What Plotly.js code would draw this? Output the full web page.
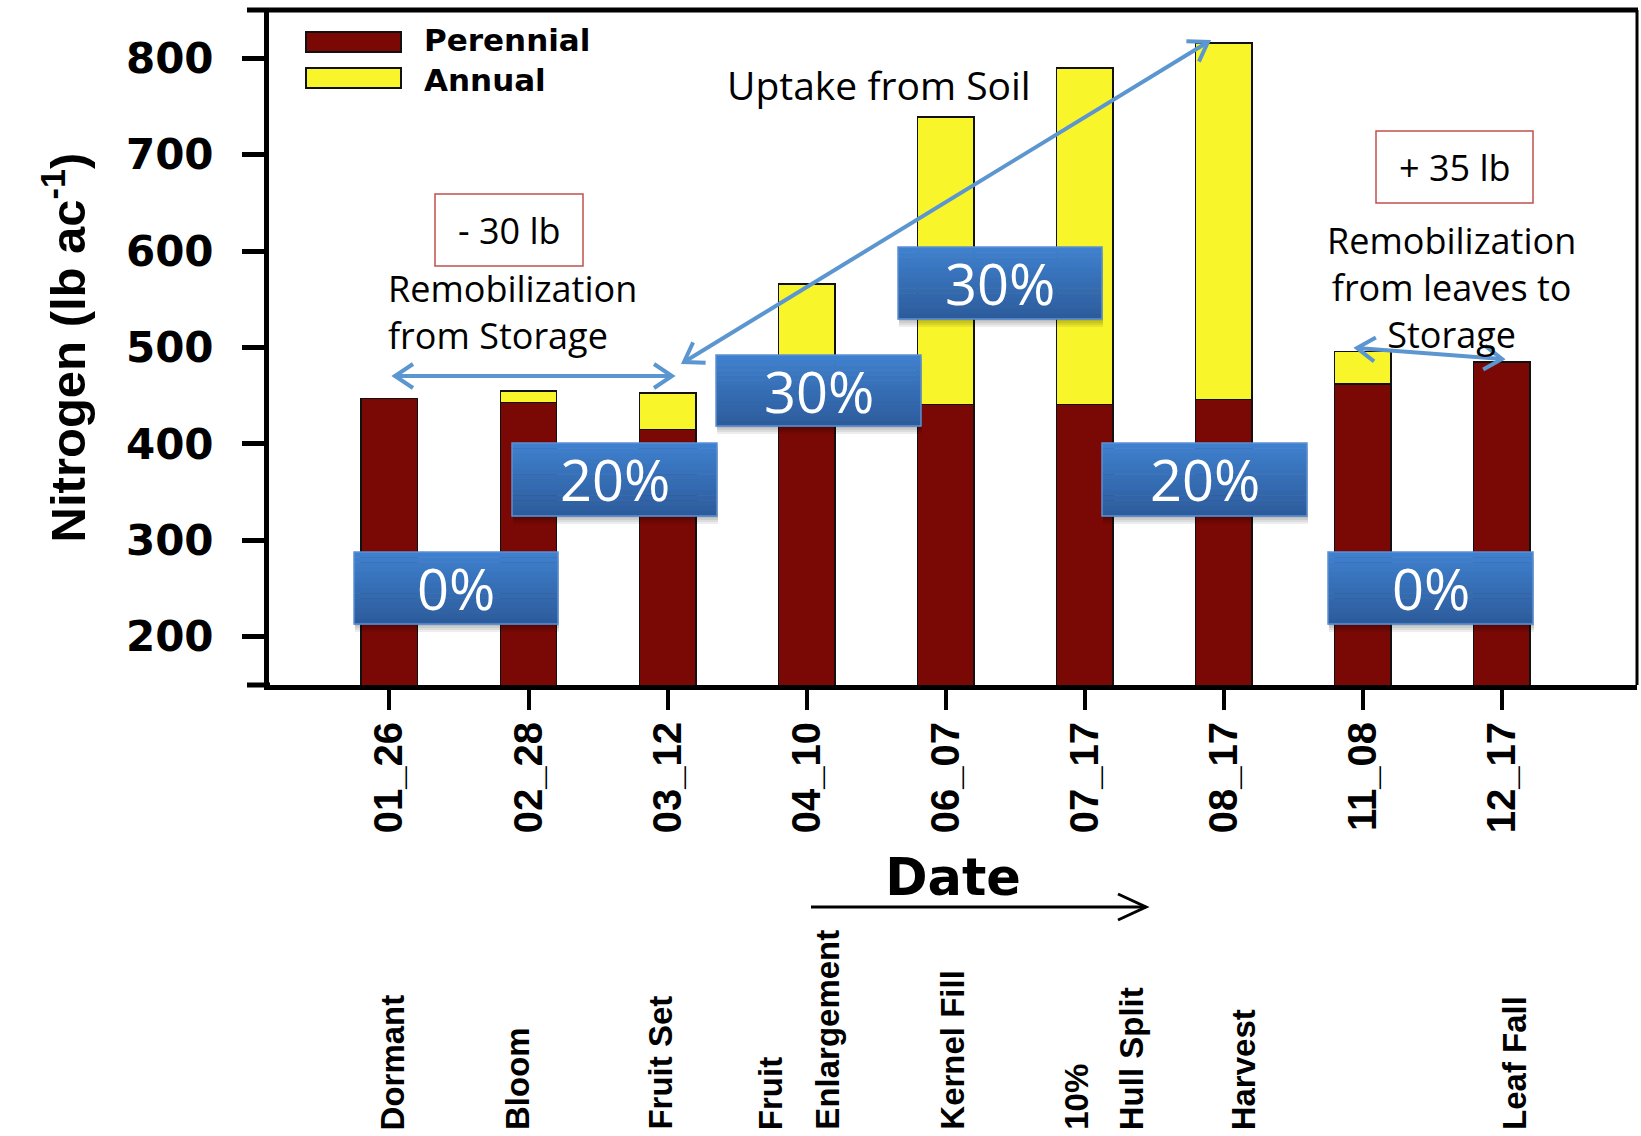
<!DOCTYPE html>
<html><head><meta charset="utf-8">
<script src="https://cdn.plot.ly/plotly-3.0.1.min.js"></script>
<style>html,body{margin:0;padding:0;background:#fff}</style>
</head><body><div id="chart" style="width:1641px;height:1136px"></div>
<script>
// ---------------- data ----------------
const dates = ['01_26','02_28','03_12','04_10','06_07','07_17','08_17','11_08','12_17'];
const perennial = [447, 443, 415, 430, 441, 441, 446, 462, 485];
const annual    = [0,   12,  38,  136, 298, 349, 370, 34,  0];
const seriesNames = ['Perennial', 'Annual'];
const stages = [['Dormant'],['Bloom'],['Fruit Set'],['Fruit','Enlargement'],['Kernel Fill'],['10%','Hull Split'],['Harvest'],[],['Leaf Fall']];
const yTickVals = [200, 300, 400, 500, 600, 700, 800];
const yTitle = 'Nitrogen (lb ac<sup>-1</sup>)';
const xTitle = 'Date';
const shareLabels = ['0%','20%','30%','30%','20%','0%'];
const changeLabels = ['- 30 lb', '+ 35 lb'];
const noteLeft = 'Remobilization<br>from Storage';
const noteRight = 'Remobilization<br>from leaves to<br>Storage';
const noteTop = 'Uptake from Soil';

// ---------------- geometry / styles ----------------
const W = 1641, H = 1136, L = 269, R = 4, T = 10, B = 451;
const PW = W - L - R, PH = H - T - B;
const px = x => (x - L) / PW;
const py = y => (T + PH - y) / PH;
const RED = '#7a0905', YEL = '#f9f52b', ARROW = '#5b96d0';
const boldArial = {family: 'Liberation Sans, Arial, sans-serif', weight: 'bold', color: '#000'};
const boldDeja = {family: 'DejaVu Sans, sans-serif', weight: 'bold', color: '#000'};
const calib = {family: 'Open Sans, Noto Sans, sans-serif', color: '#000'};

const shareBoxPos = [[354,552,558,624],[512,443,717,516],[716,355,921,426],[898,247,1102,319],[1102,443,1307,516],[1328,552,1533,624]];
const changeBoxPos = [[435,194,583,266],[1376,131,1533,203]];
const stageShift = [3,-11,-8,-8,6,19,20,0,12];

const traces = [
  {type:'bar', name: seriesNames[0], x: dates, y: perennial,
   marker:{color: RED, line:{color:'#111', width:1.5}}, showlegend:false, hoverinfo:'x+y'},
  {type:'bar', name: seriesNames[1], x: dates, y: annual,
   marker:{color: YEL, line:{color:'#111', width:1.5}}, showlegend:false, hoverinfo:'x+y'}
];

const shapes = [];
const annotations = [];

// frame
shapes.push({type:'line', xref:'paper', yref:'paper', x0:px(247), x1:px(1638), y0:1, y1:1, line:{color:'#000', width:5}});
shapes.push({type:'line', xref:'paper', yref:'paper', x0:1, x1:1, y0:0, y1:1, line:{color:'#000', width:3}});
shapes.push({type:'line', xref:'paper', yref:'paper', x0:px(247), x1:px(270), y0:0, y1:0, line:{color:'#000', width:5}});

// legend (manual swatches + one text block)
const legendRows = [[32,52,RED],[68,88,YEL]];
legendRows.forEach(r => {
  shapes.push({type:'rect', xref:'paper', yref:'paper', x0:px(306), x1:px(401), y0:py(r[1]), y1:py(r[0]),
    fillcolor:r[2], line:{color:'#111', width:2}});
});
annotations.push({xref:'paper', yref:'paper', x:px(422), y:py(60), xanchor:'left', yanchor:'middle', align:'left',
  text: seriesNames.join('<br>'), showarrow:false, font:Object.assign({size:31}, boldDeja)});

// blue percentage boxes with gradient + shadow
function lerp(a,b,t){return Math.round(a+(b-a)*t);}
const gradTop=[63,128,206], gradBot=[45,92,156];
shareBoxPos.forEach((p,i) => {
  const [x0,y0,x1,y1] = p;
  for (let k=1;k<=4;k++){
    shapes.push({type:'rect', xref:'paper', yref:'paper', layer:'above', x0:px(x0+1), x1:px(x1+1), y0:py(y1+k*2), y1:py(y0+k*2),
      fillcolor:'rgba(0,0,0,0.07)', line:{width:0}});
  }
  const n = 14;
  for (let k=0;k<n;k++){
    const t = k/(n-1);
    const c = 'rgb('+lerp(gradTop[0],gradBot[0],t)+','+lerp(gradTop[1],gradBot[1],t)+','+lerp(gradTop[2],gradBot[2],t)+')';
    const ya = y0 + (y1-y0)*k/n, yb = y0 + (y1-y0)*(k+1)/n;
    shapes.push({type:'rect', xref:'paper', yref:'paper', layer:'above', x0:px(x0), x1:px(x1), y0:py(yb+0.5), y1:py(ya),
      fillcolor:c, line:{width:0}});
  }
  shapes.push({type:'rect', xref:'paper', yref:'paper', layer:'above', x0:px(x0), x1:px(x1), y0:py(y1), y1:py(y0),
    fillcolor:'rgba(0,0,0,0)', line:{color:'#5c8fd3', width:1.5}});
  annotations.push({xref:'paper', yref:'paper', x:px((x0+x1)/2), y:py((y0+y1)/2), xanchor:'center', yanchor:'middle',
    text: shareLabels[i], showarrow:false, font:{family:'Open Sans, Noto Sans, sans-serif', size:56, color:'#fff'}});
});

// red change boxes
changeBoxPos.forEach((p,i) => {
  const [x0,y0,x1,y1] = p;
  shapes.push({type:'rect', xref:'paper', yref:'paper', layer:'above', x0:px(x0), x1:px(x1), y0:py(y1), y1:py(y0),
    fillcolor:'#fff', line:{color:'#c0504d', width:1.5}});
  annotations.push({xref:'paper', yref:'paper', x:px((x0+x1)/2), y:py((y0+y1)/2), xanchor:'center', yanchor:'middle',
    text: changeLabels[i], showarrow:false, font:Object.assign({size:36}, calib)});
});

// notes
annotations.push({xref:'paper', yref:'paper', x:px(386), y:py(312), xanchor:'left', yanchor:'middle', align:'left',
  text:noteLeft, showarrow:false, font:Object.assign({size:36}, calib)});
annotations.push({xref:'paper', yref:'paper', x:px(1451), y:py(287), xanchor:'center', yanchor:'middle', align:'center',
  text:noteRight, showarrow:false, font:Object.assign({size:36}, calib)});
annotations.push({xref:'paper', yref:'paper', x:px(879), y:py(84), xanchor:'center', yanchor:'middle',
  text:noteTop, showarrow:false, font:Object.assign({size:39}, calib)});

// arrows drawn as line shapes with open chevron heads
function arrowShapes(hx, hy, tx, ty, color, width, len, half, both){
  shapes.push({type:'line', xref:'paper', yref:'paper', layer:'above', x0:px(tx), y0:py(ty), x1:px(hx), y1:py(hy),
    line:{color:color, width:width}});
  const heads = both ? [[hx,hy,tx,ty],[tx,ty,hx,hy]] : [[hx,hy,tx,ty]];
  heads.forEach(h => {
    const dx = h[0]-h[2], dy = h[1]-h[3], d = Math.hypot(dx,dy);
    const ux = dx/d, uy = dy/d, nx = -uy, ny = ux;
    const ax = h[0]-len*ux+half*nx, ay = h[1]-len*uy+half*ny;
    const bx = h[0]-len*ux-half*nx, by = h[1]-len*uy-half*ny;
    shapes.push({type:'path', xref:'paper', yref:'paper', layer:'above',
      path:'M'+px(ax)+','+py(ay)+' L'+px(h[0])+','+py(h[1])+' L'+px(bx)+','+py(by),
      line:{color:color, width:width}});
  });
}
const blueArrows = [[672,376,395,376],[1208,42,684,362],[1502,359,1357,348]];
blueArrows.forEach(a => arrowShapes(a[0],a[1],a[2],a[3], ARROW, 4, 18, 12, true));
arrowShapes(1146, 907, 811, 907, '#000', 3, 28, 13, false);

// stage labels
stages.forEach((lines,i) => {
  lines.forEach((t,j) => {
    const off = (j - (lines.length-1)/2) * 56;
    annotations.push({xref:'x', yref:'paper', x:i, y:py(1132), xanchor:'center', yanchor:'bottom', textangle:-90,
      xshift: stageShift[i] + off, text:t, showarrow:false, font:Object.assign({size:33}, boldArial)});
  });
});

const layout = {
  width: W, height: H,
  margin: {l:L, r:R, t:T, b:B, pad:0},
  paper_bgcolor:'#fff', plot_bgcolor:'#fff',
  barmode:'stack', bargap:0.594,
  showlegend:false,
  xaxis: {type:'category', range:[-0.866, 8.971], showline:true, linecolor:'#000', linewidth:5,
    ticks:'outside', ticklen:20, tickwidth:4, tickcolor:'#000', tickangle:-90, ticklabelstandoff:-4,
    tickfont:Object.assign({size:40}, boldArial), showgrid:false, zeroline:false, fixedrange:true,
    title:{text:xTitle, font:Object.assign({size:51}, boldDeja), standoff:29}},
  yaxis: {range:[150, 850], tickvals:yTickVals, showline:true, linecolor:'#000', linewidth:5,
    ticks:'outside', ticklen:22, tickwidth:5, tickcolor:'#000', ticklabelstandoff:20,
    tickfont:Object.assign({size:42}, boldDeja), showgrid:false, zeroline:false, fixedrange:true,
    title:{text:yTitle, font:Object.assign({size:49}, boldArial), standoff:26}},
  shapes: shapes,
  annotations: annotations
};

Plotly.newPlot('chart', traces, layout, {displayModeBar:false, staticPlot:true});
</script></body></html>
